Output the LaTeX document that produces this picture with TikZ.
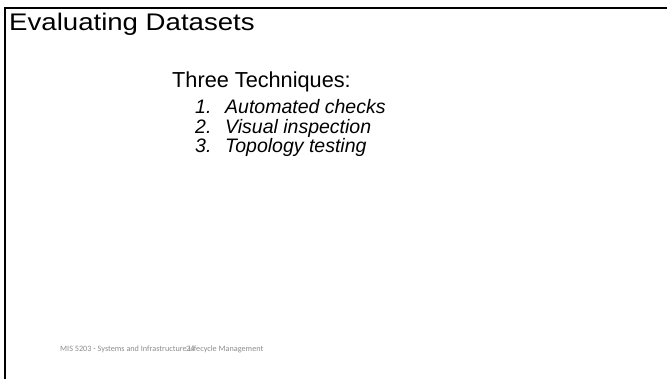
\documentclass[tikz,border=0pt]{standalone}
\usepackage{fontspec}
\setmainfont{Liberation Sans}
\newfontfamily\footfont{Carlito}
\begin{document}
\begin{tikzpicture}[x=1pt,y=-1pt,
  titletext/.style={anchor=base west,inner sep=0pt,font=\fontsize{24}{28}\selectfont},
  headtext/.style={anchor=base west,inner sep=0pt,font=\fontsize{21.7}{26}\selectfont},
  itemtext/.style={anchor=base west,inner sep=0pt,font=\fontsize{19.5}{23}\selectfont\itshape},
  foottext/.style={anchor=base west,inner sep=0pt,text=black!45,font=\footfont\fontsize{8.2}{10}\selectfont},
  frameline/.style={line width=2.5pt,black}]
\useasboundingbox (0,0) rectangle (667,379);
\coordinate (tl) at (5,8);
\coordinate (tr) at (667,8);
\coordinate (bl) at (5,379);
\draw[frameline] (tr) -- (tl) -- (bl);
\node[titletext,xscale=1.15] (title) at (9,31) {Evaluating Datasets};
\node[headtext] (head) at (172,88) {Three Techniques:};
\node[itemtext] (n1) at (195,114) {1.};
\node[itemtext] (i1) at (225,114) {Automated checks};
\node[itemtext] (n2) at (195,133.5) {2.};
\node[itemtext] (i2) at (225,133.5) {Visual inspection};
\node[itemtext] (n3) at (195,153) {3.};
\node[itemtext] (i3) at (225,153) {Topology testing};
\node[foottext] (foot) at (60,352) {MIS 5203 - Systems and Infrastructure Lifecycle Management};
\node[foottext] (page) at (186,352) {24};
\end{tikzpicture}
\end{document}
